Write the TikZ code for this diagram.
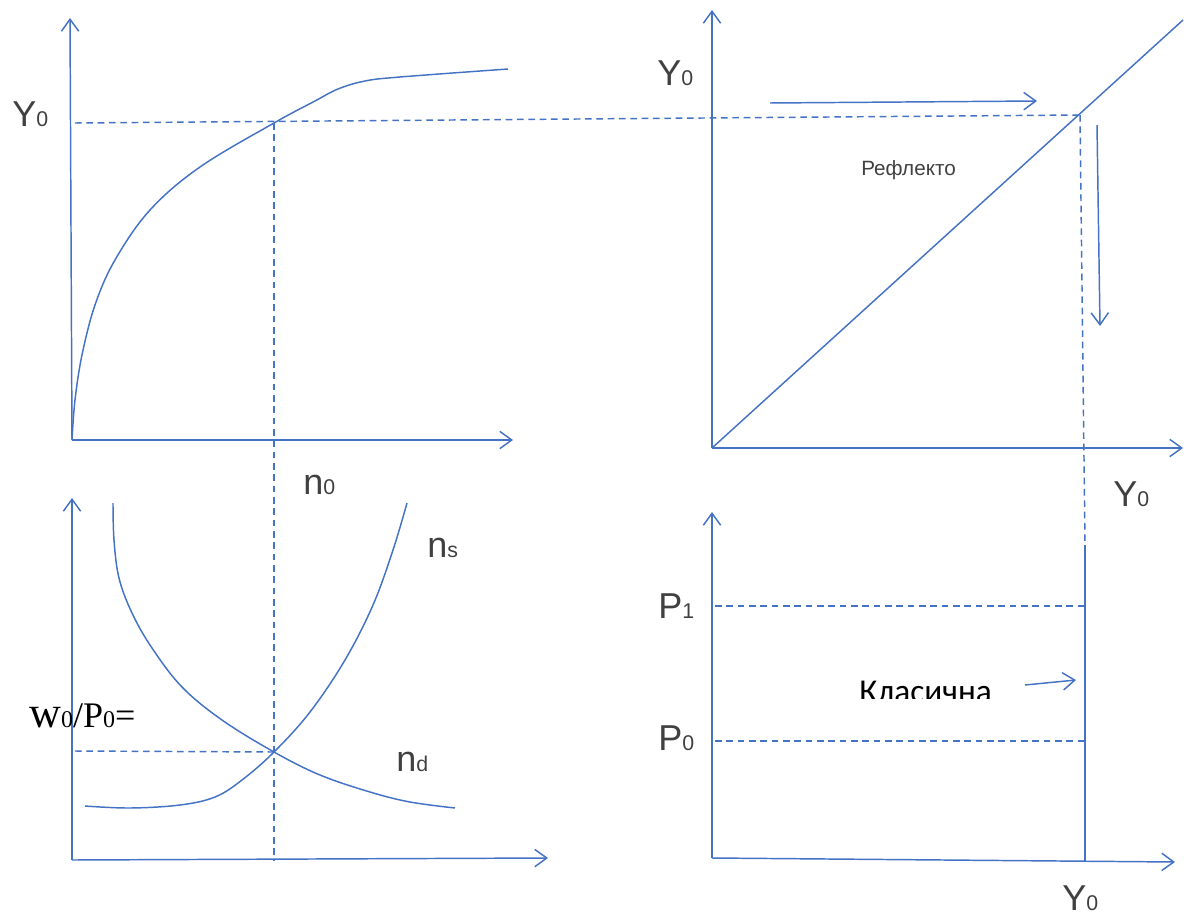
\documentclass[tikz,border=0pt]{standalone}
\usepackage{fontspec}
\setmainfont{Liberation Sans}
\newfontfamily\tmsfont{Liberation Serif}
\newfontfamily\calfont{Carlito}
\usetikzlibrary{arrows.meta}
\definecolor{ln}{RGB}{68,114,196}
\definecolor{tx}{RGB}{64,64,64}
\tikzset{
  ax/.style={draw=ln, line width=1.1pt, -{Straight Barb[length=9pt,width=13pt,line width=1.1pt]}},
  curve/.style={draw=ln, line width=1.1pt},
  dsh/.style={draw=ln, line width=1.1pt, dash pattern=on 5pt off 3.5pt},
  lbl/.style={text=tx, inner sep=0pt, font=\fontsize{27}{30}\selectfont},
}
\newcommand{\mysub}[1]{{\fontsize{16}{18}\selectfont #1}}
\begin{document}
\begin{tikzpicture}[x=0.75pt,y=-0.75pt]
\useasboundingbox (0,0) rectangle (1196,917);
% ---------- coordinates ----------
\coordinate (o1) at (72,440);
\coordinate (y1) at (70,18);
\coordinate (x1) at (513,440);
\coordinate (o2) at (72,860);
\coordinate (y2) at (72,498);
\coordinate (x2) at (548,858);
\coordinate (o3) at (712,448);
\coordinate (y3) at (712,10);
\coordinate (x3) at (1183,448);
\coordinate (d3) at (1183,20);
\coordinate (o4) at (712,858);
\coordinate (y4) at (712,512);
\coordinate (x4) at (1175,862);
\coordinate (E1) at (274,123);
\coordinate (E2) at (274,752);
\coordinate (R) at (1080,115);
\coordinate (Y0a) at (75,123);
\coordinate (Rb) at (1085,545);
\coordinate (vb) at (1085,862);
\coordinate (nbot) at (274,860);
\coordinate (wl) at (75,751);
\coordinate (p1l) at (715,606);
\coordinate (p1r) at (1085,606);
\coordinate (p0l) at (715,741);
\coordinate (p0r) at (1085,741);
\coordinate (a1s) at (770,103);
\coordinate (a1e) at (1037,101);
\coordinate (a2s) at (1097,125);
\coordinate (a2e) at (1100,326);
\coordinate (a3s) at (1025,685);
\coordinate (a3e) at (1076,680);
% ---------- axes ----------
\draw[ax] (o1) -- (y1);
\draw[ax] (o1) -- (x1);
\draw[ax] (o2) -- (y2);
\draw[ax] (o2) -- (x2);
\draw[ax] (o3) -- (y3);
\draw[ax] (o3) -- (x3);
\draw[ax] (o4) -- (y4);
\draw[ax] (o4) -- (x4);
% ---------- production curve ----------
\draw[curve] plot[smooth, tension=0.6] coordinates {(72,440) (75,400) (82,355) (95,305) (115,260) (150,210) (200,167) (274,123) (315,101) (338,89) (365,81) (400,77) (508,69)};
% ---------- labour market ----------
\draw[curve] plot[smooth, tension=0.6] coordinates {(113,503) (114,540) (119,578) (132,613) (152,648) (182,687) (222,720) (274,752) (320,775) (370,792) (410,802) (455,808)};
\draw[curve] plot[smooth, tension=0.6] coordinates {(85,806) (130,808) (180,805) (215,797) (242,780) (274,752) (310,712) (345,660) (373,605) (393,550) (407,503)};
% ---------- reflector ----------
\draw[curve] (o3) -- (d3);
% ---------- dashed guides ----------
\draw[dsh] (Y0a) -- (R);
\draw[dsh] (E1) -- (nbot);
\draw[dsh] (R) -- (Rb);
\draw[dsh] (wl) -- (E2);
\draw[dsh] (p1l) -- (p1r);
\draw[dsh] (p0l) -- (p0r);
% ---------- classical supply ----------
\draw[draw=ln, line width=2.2pt] (Rb) -- (vb);
% ---------- arrows ----------
\draw[ax] (a1s) -- (a1e);
\draw[ax] (a2s) -- (a2e);
\draw[ax] (a3s) -- (a3e);
% ---------- labels ----------
\node[lbl, anchor=base west] (lY1) at (12,127) {Y\mysub{0}};
\node[lbl, anchor=base west] (ln0) at (303,494) {n\mysub{0}};
\node[lbl, anchor=base west] (lns) at (427,557) {n\mysub{s}};
\node[lbl, anchor=base west] (lnd) at (396,771) {n\mysub{d}};
\node[lbl, anchor=base west] (lY2) at (657,86) {Y\mysub{0}};
\node[lbl, anchor=base west] (lY3) at (1113,506) {Y\mysub{0}};
\node[lbl, anchor=base west] (lP1) at (658,618) {P\mysub{1}};
\node[lbl, anchor=base west] (lP0) at (658,750) {P\mysub{0}};
\node[lbl, anchor=base west] (lY4) at (1062,910) {Y\mysub{0}};
\node[text=tx, inner sep=0pt, anchor=base west, font=\fontsize{15.5}{17}\selectfont] (lref) at (861,175) {Рефлекто};
\node[inner sep=0pt, anchor=base west, text=black, font=\tmsfont] (lw) at (29,727)
  {{\fontsize{33}{36}\selectfont w}{\fontsize{18}{20}\selectfont 0}{\fontsize{27}{30}\selectfont /P}{\fontsize{18}{20}\selectfont 0}{\fontsize{27}{30}\selectfont =}};
\begin{scope}
\clip (840,670) rectangle (1020,698);
\node[inner sep=0pt, anchor=base west, text=black, font=\calfont\fontsize{25}{28}\selectfont] (lkl) at (859,702) {Класична};
\end{scope}
\end{tikzpicture}
\end{document}
